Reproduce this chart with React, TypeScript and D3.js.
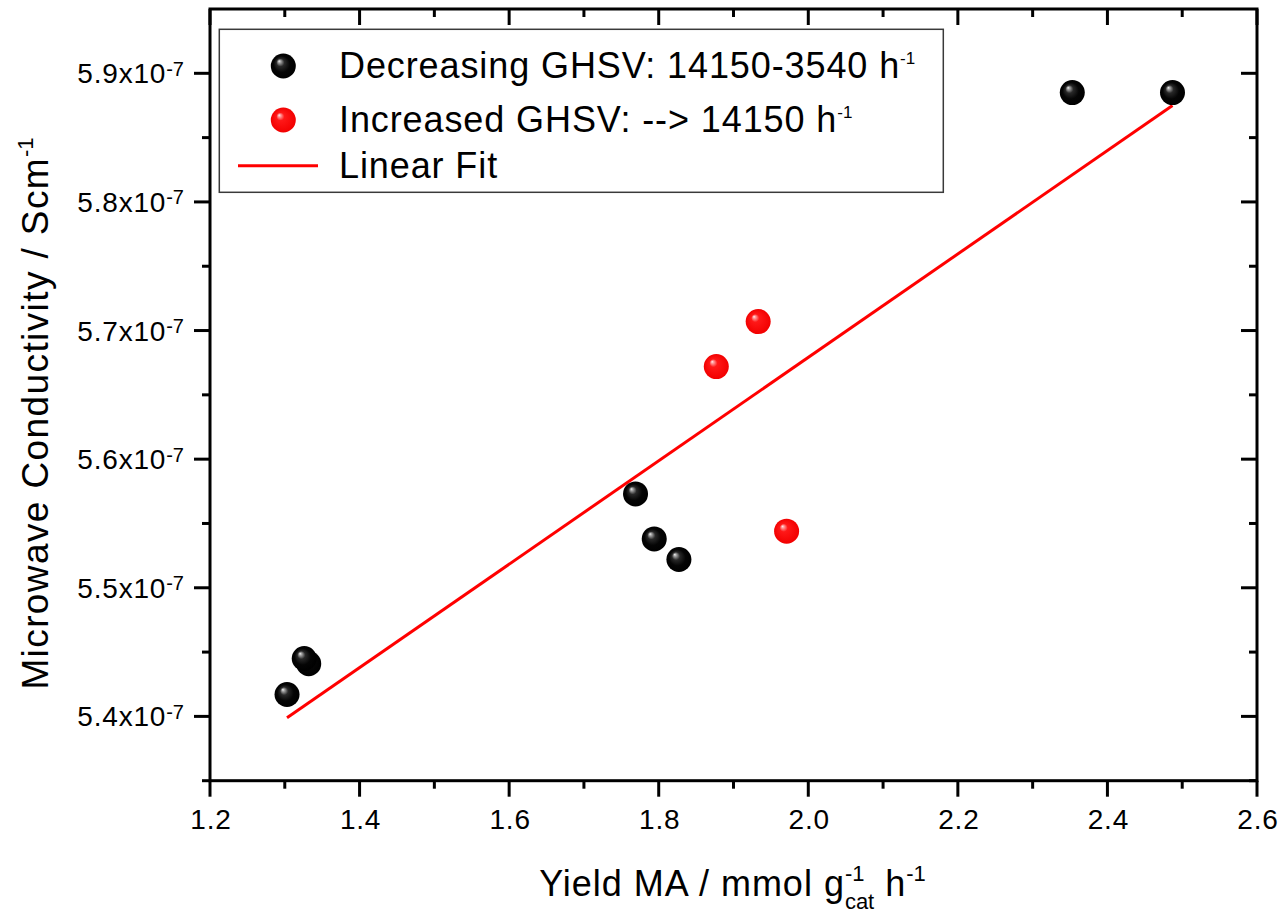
import React from "react";
import * as d3 from "d3";

// ---- data (y in units of 1e-7 S/cm) ----
const decreasingX = [1.303, 1.332, 1.326, 1.769, 1.794, 1.827, 2.353, 2.487];
const decreasingY = [5.417, 5.441, 5.445, 5.573, 5.538, 5.522, 5.885, 5.885];
const increasedX = [1.877, 1.933, 1.971];
const increasedY = [5.672, 5.707, 5.544];
const xMajorTicks = [1.2, 1.4, 1.6, 1.8, 2.0, 2.2, 2.4, 2.6];
const xMinorTicks = [1.3, 1.5, 1.7, 1.9, 2.1, 2.3, 2.5];
const yMajorTicks = [5.4, 5.5, 5.6, 5.7, 5.8, 5.9];
const yMinorTicks = [5.35, 5.45, 5.55, 5.65, 5.75, 5.85];
const legendLabels = ["Decreasing GHSV: 14150-3540 h", "Increased GHSV: --> 14150 h", "Linear Fit"];

const W = 1280;
const H = 913;
const L = 210, R = 1257, T = 9, B = 780.7;
const FONT = "'Liberation Sans', Arial, sans-serif";

export default function App() {
  const x = d3.scaleLinear().domain([1.2, 2.6]).range([L, R]);
  const y = d3.scaleLinear().domain([5.35, 5.95]).range([B, T]);

  // least-squares linear fit over the decreasing-GHSV series
  const mx = d3.mean(decreasingX)!;
  const my = d3.mean(decreasingY)!;
  let sxy = 0, sxx = 0;
  decreasingX.forEach((v, i) => {
    sxy += (v - mx) * (decreasingY[i] - my);
    sxx += (v - mx) * (v - mx);
  });
  const slope = sxy / sxx;
  const intercept = my - slope * mx;
  const fitXs = [d3.min(decreasingX)!, d3.max(decreasingX)!];
  const fitPts: [number, number][] = fitXs.map((v) => [v, intercept + slope * v]);
  const line = d3.line<[number, number]>().x((d) => x(d[0])).y((d) => y(d[1]));

  const axisW = 3;
  const maj = 16, min = 8;
  const r = 12.5;

  const sphere = (cx: number, cy: number, grad: string, key: string) => (
    <circle key={key} cx={cx} cy={cy} r={r} fill={`url(#${grad})`} />
  );

  return (
    <svg width={W} height={H} style={{ position: "absolute", left: 0, top: 0, background: "#fff" }}
      fontFamily={FONT}>
      <defs>
        <radialGradient id="gBlack" cx="0.5" cy="0.5" r="0.5" fx="0.33" fy="0.3">
          <stop offset="0%" stopColor="#f4f4f4" />
          <stop offset="10%" stopColor="#a8a8a8" />
          <stop offset="32%" stopColor="#282828" />
          <stop offset="65%" stopColor="#050505" />
          <stop offset="100%" stopColor="#000" />
        </radialGradient>
        <radialGradient id="gRed" cx="0.5" cy="0.5" r="0.5" fx="0.33" fy="0.3">
          <stop offset="0%" stopColor="#fff0f0" />
          <stop offset="10%" stopColor="#ffa0a0" />
          <stop offset="32%" stopColor="#ff1818" />
          <stop offset="100%" stopColor="#f20000" />
        </radialGradient>
      </defs>
      <rect x={0} y={0} width={W} height={H} fill="#fff" />

      {/* fit line */}
      <path d={line(fitPts)!} fill="none" stroke="#ff0000" strokeWidth={3} />

      {/* points */}
      {decreasingX.map((v, i) => sphere(x(v), y(decreasingY[i]), "gBlack", "b" + i))}
      {increasedX.map((v, i) => sphere(x(v), y(increasedY[i]), "gRed", "r" + i))}

      {/* frame */}
      <g stroke="#000" strokeWidth={axisW} fill="none">
        <rect x={L} y={T} width={R - L} height={B - T} strokeLinecap="square" />
        {xMajorTicks.map((t) => (
          <line key={"xb" + t} x1={x(t)} x2={x(t)} y1={B} y2={B + maj} />
        ))}
        {xMinorTicks.map((t) => (
          <line key={"xbm" + t} x1={x(t)} x2={x(t)} y1={B} y2={B + min} />
        ))}
        {xMajorTicks.map((t) => (
          <line key={"xt" + t} x1={x(t)} x2={x(t)} y1={T} y2={T + maj} />
        ))}
        {xMinorTicks.map((t) => (
          <line key={"xtm" + t} x1={x(t)} x2={x(t)} y1={T} y2={T + min} />
        ))}
        {yMajorTicks.map((t) => (
          <line key={"yl" + t} x1={L - maj} x2={L} y1={y(t)} y2={y(t)} />
        ))}
        {yMinorTicks.map((t) => (
          <line key={"ylm" + t} x1={L - min} x2={L} y1={y(t)} y2={y(t)} />
        ))}
        {yMajorTicks.map((t) => (
          <line key={"yr" + t} x1={R - maj} x2={R} y1={y(t)} y2={y(t)} />
        ))}
        {yMinorTicks.map((t) => (
          <line key={"yrm" + t} x1={R - min} x2={R} y1={y(t)} y2={y(t)} />
        ))}
      </g>

      {/* x tick labels */}
      {xMajorTicks.map((t) => (
        <text key={"xl" + t} x={x(t) + 1} y={829} fontSize={28} letterSpacing={0.8} textAnchor="middle" fill="#000">
          {d3.format(".1f")(t)}
        </text>
      ))}

      {/* y tick labels */}
      {yMajorTicks.map((t) => (
        <text key={"ylab" + t} x={184} y={y(t) + 10} fontSize={28} letterSpacing={0.8} textAnchor="end" fill="#000">
          {d3.format(".1f")(t) + "x10"}
          <tspan fontSize={20} dy={-7.5} letterSpacing={0}>-7</tspan>
        </text>
      ))}

      {/* x title */}
      <text x={(L + R) / 2 - 1} y={896} fontSize={36} letterSpacing={1} textAnchor="middle" fill="#000">
        Yield MA / mmol g
        <tspan fontSize={22} dy={-15} letterSpacing={0}>-1</tspan>
        <tspan fontSize={22} dx={-19.6} dy={28} letterSpacing={0}>cat</tspan>
        <tspan dy={-13}> h</tspan>
        <tspan fontSize={22} dy={-15} letterSpacing={0}>-1</tspan>
      </text>

      {/* y title */}
      <text transform={`translate(48, ${413.5}) rotate(-90)`} fontSize={37} letterSpacing={1.4} textAnchor="middle" fill="#000">
        Microwave Conductivity / Scm
        <tspan fontSize={22} dy={-15} letterSpacing={0}>-1</tspan>
      </text>

      {/* legend */}
      <rect x={219.3} y={29.3} width={724} height={163} fill="#fff" stroke="#3a3a3a" strokeWidth={1.5} />
      {sphere(283.3, 66, "gBlack", "lg0")}
      {sphere(283.3, 120, "gRed", "lg1")}
      <line x1={238} x2={318} y1={165.7} y2={165.7} stroke="#ff0000" strokeWidth={3} />
      {legendLabels.map((lab, i) => (
        <text key={"lt" + i} x={339} y={[78.3, 131.7, 178][i]} fontSize={36} letterSpacing={0.9} fill="#000">
          {lab}
          {i < 2 ? <tspan fontSize={17} dy={-14} letterSpacing={0}>-1</tspan> : null}
        </text>
      ))}
    </svg>
  );
}
